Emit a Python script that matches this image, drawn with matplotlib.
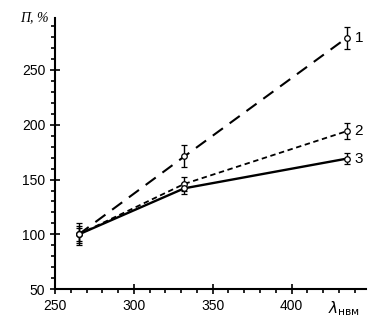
import matplotlib
matplotlib.use("Agg")
import matplotlib.pyplot as plt
from matplotlib.ticker import MultipleLocator

plt.rcParams['font.family'] = ['Liberation Sans', 'DejaVu Sans']

wavelength = [265, 332, 435]
series_1 = [100, 171, 279]
series_2 = [100, 146, 194]
series_3 = [100, 142, 169]
err_1 = [10, 10, 10]
err_2 = [8, 6, 7]
err_3 = [6, 5, 5]
labels = ['1', '2', '3']

fig = plt.figure(figsize=(3.79, 3.27), dpi=100)
ax = fig.add_axes([0.145, 0.115, 0.82, 0.83])

styles = [(0, (6, 4)), (0, (3, 2)), '-']
widths = [1.5, 1.3, 1.7]
for ys, er, ls, lw, lab in zip([series_1, series_2, series_3],
                               [err_1, err_2, err_3], styles, widths, labels):
    ax.errorbar(wavelength, ys, yerr=er, color='black', ls=ls, lw=lw,
                marker='o', ms=4, mfc='white', mec='black', mew=0.9,
                elinewidth=1, capsize=2)
    ax.text(wavelength[-1] + 5, ys[-1], lab, fontsize=11, va='center', ha='left')

ax.set_xlim(250, 447)
ax.set_ylim(50, 297)
ax.set_xticks([250, 300, 350, 400])
ax.set_yticks([50, 100, 150, 200, 250])
ax.xaxis.set_minor_locator(MultipleLocator(10))
ax.yaxis.set_minor_locator(MultipleLocator(10))
ax.tick_params(which='major', direction='inout', length=7, width=1.2, labelsize=10)
ax.tick_params(which='minor', direction='out', length=3, width=1.2)
for s in ['top', 'right']:
    ax.spines[s].set_visible(False)
for s in ['left', 'bottom']:
    ax.spines[s].set_linewidth(1.5)

ax.text(-0.02, 1.0, 'П, %', transform=ax.transAxes, ha='right', va='center',
        fontsize=10, style='italic', family=['Liberation Serif', 'DejaVu Serif'])
ax.text(0.93, -0.07, r'$\lambda_{\mathrm{нвм}}$', transform=ax.transAxes,
        ha='center', va='center', fontsize=11)

fig.savefig('out.png', dpi=100)
